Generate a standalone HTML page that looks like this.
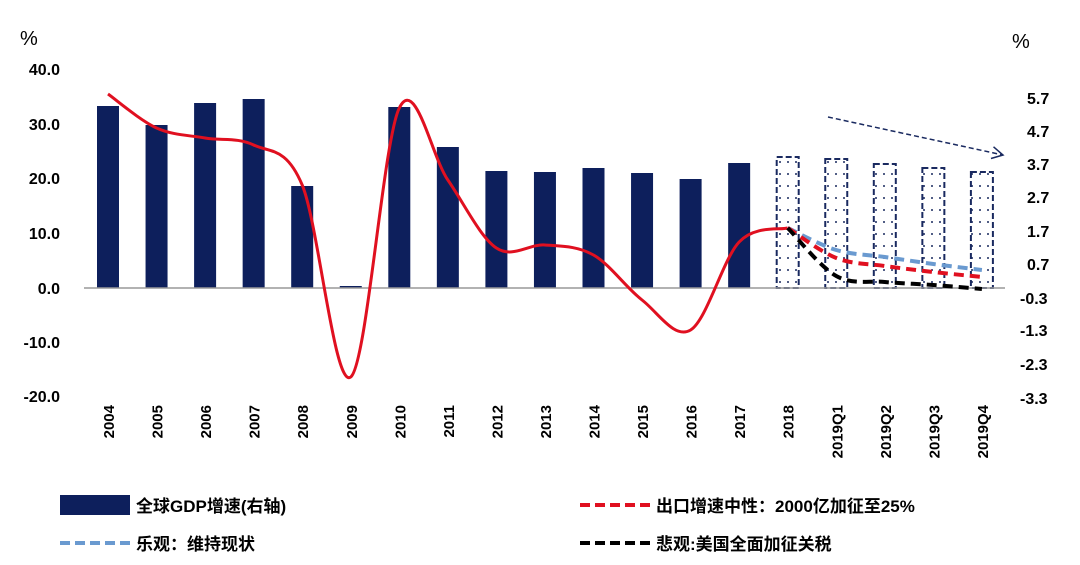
<!DOCTYPE html>
<html><head><meta charset="utf-8"><style>
body{margin:0;background:#fff;}
svg{display:block;font-family:"Liberation Sans","Noto Sans CJK SC",sans-serif;font-weight:bold;}
</style></head><body>
<svg id="s" width="1080" height="565" viewBox="0 0 1080 565" xmlns="http://www.w3.org/2000/svg">
<defs>
<pattern id="dots" width="8" height="12" patternUnits="userSpaceOnUse"><circle cx="4" cy="6" r="1" fill="#1a2a60"/></pattern>
<marker id="ar" markerWidth="14" markerHeight="14" refX="12" refY="7" orient="auto" markerUnits="userSpaceOnUse"><path d="M1,1 L12,7 L1,13" fill="none" stroke="#1a2a60" stroke-width="1.5"/></marker>
</defs>
<text x="20" y="45" font-size="20" font-weight="normal">%</text>
<text x="1012" y="48" font-size="20" font-weight="normal">%</text>
<g font-size="16" text-anchor="end">
<text x="60" y="75">40.0</text><text x="60" y="130">30.0</text><text x="60" y="184">20.0</text><text x="60" y="239">10.0</text><text x="60" y="294">0.0</text><text x="60" y="348">-10.0</text><text x="60" y="402">-20.0</text>
</g>
<g font-size="16" text-anchor="start">
<text x="1027" y="104">5.7</text><text x="1027" y="137">4.7</text><text x="1027" y="170">3.7</text><text x="1027" y="203">2.7</text><text x="1027" y="237">1.7</text><text x="1027" y="270">0.7</text><text x="1020" y="304">-0.3</text><text x="1020" y="336">-1.3</text><text x="1020" y="370">-2.3</text><text x="1020" y="404">-3.3</text>
</g>
<g id="bars"></g>
<line x1="84" y1="288" x2="1005" y2="288" stroke="#999" stroke-width="1.5"/>
<g id="lines"></g>
<line x1="828" y1="117" x2="1003" y2="155" stroke="#1a2a60" stroke-width="1.5" stroke-dasharray="5,3" marker-end="url(#ar)"/>
<g id="xl" font-size="15"></g>
<rect x="60" y="495" width="70" height="20" fill="#0d1f5c"/>
<text x="136" y="512" font-size="17">全球GDP增速(右轴)</text>
<line x1="60" y1="543" x2="130" y2="543" stroke="#6a9ad0" stroke-width="4" stroke-dasharray="10,5"/>
<text x="136" y="550" font-size="17">乐观：维持现状</text>
<line x1="580" y1="505" x2="650" y2="505" stroke="#e01020" stroke-width="4" stroke-dasharray="10,5"/>
<text x="656" y="512" font-size="17">出口增速中性：2000亿加征至25%</text>
<line x1="580" y1="543" x2="650" y2="543" stroke="#000" stroke-width="4" stroke-dasharray="10,5"/>
<text x="656" y="550" font-size="17">悲观:美国全面加征关税</text>
</svg>
<script>
var NS="http://www.w3.org/2000/svg";
function X(i){return 108+i*48.55;}
var labs=["2004","2005","2006","2007","2008","2009","2010","2011","2012","2013","2014","2015","2016","2017","2018","2019Q1","2019Q2","2019Q3","2019Q4"];
var tops=[106,125,103,99,186,286,107,147,171,172,168,173,179,163,157,159,164,168,172];
var bg=document.getElementById("bars"),xl=document.getElementById("xl");
tops.forEach(function(t,i){var r=document.createElementNS(NS,"rect");r.setAttribute("x",X(i)-11);r.setAttribute("y",t);r.setAttribute("width",22);r.setAttribute("height",288-t);
if(i<14){r.setAttribute("fill","#0d1f5c");}else{r.setAttribute("fill","url(#dots)");r.setAttribute("stroke","#1a2a60");r.setAttribute("stroke-width","2");r.setAttribute("stroke-dasharray","6,3");}
bg.appendChild(r);
var tx=document.createElementNS(NS,"text");tx.setAttribute("transform","translate("+(X(i)+6)+",405) rotate(-90)");tx.setAttribute("text-anchor","end");tx.textContent=labs[i];xl.appendChild(tx);});
function path(pts){var d="M"+pts[0][0]+","+pts[0][1];for(var i=0;i<pts.length-1;i++){var p0=pts[i-1]||pts[i],p1=pts[i],p2=pts[i+1],p3=pts[i+2]||p2;
d+=" C"+(p1[0]+(p2[0]-p0[0])/6)+","+(p1[1]+(p2[1]-p0[1])/6)+" "+(p2[0]-(p3[0]-p1[0])/6)+","+(p2[1]-(p3[1]-p1[1])/6)+" "+p2[0]+","+p2[1];}return d;}
function line(ys,start,col,dash){var pts=ys.map(function(y,k){return [X(start+k),y];});var p=document.createElementNS(NS,"path");p.setAttribute("d",path(pts));p.setAttribute("fill","none");p.setAttribute("stroke",col);p.setAttribute("stroke-width",dash?4:3);if(dash)p.setAttribute("stroke-dasharray","10,6");document.getElementById("lines").appendChild(p);}
line([94,128,138,145,185,377,108,180,248,245,255,300,330,242,228],0,"#e01020",false);
line([228,250,257,264,270],14,"#6a9ad0",true);
line([228,258,266,272,277],14,"#e01020",true);
line([228,276,282,285,289],14,"#000",true);
</script>
</body></html>
